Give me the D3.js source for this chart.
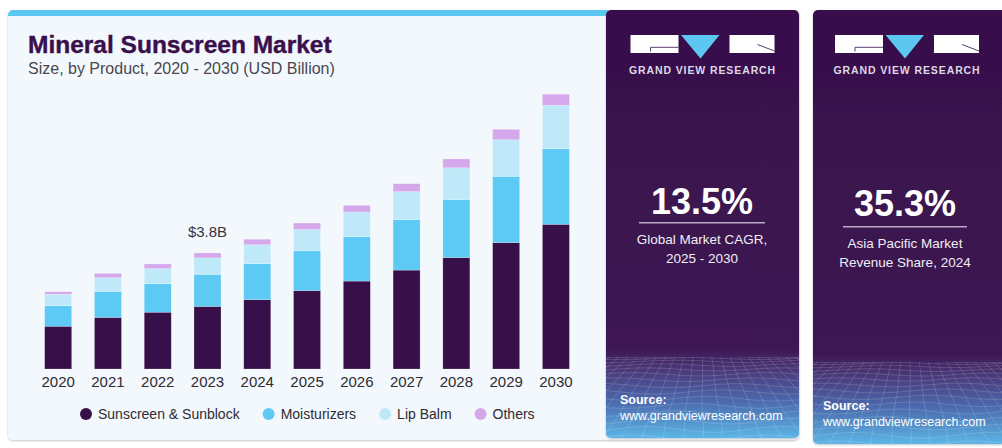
<!DOCTYPE html>
<html>
<head>
<meta charset="utf-8">
<script src="https://cdn.jsdelivr.net/npm/d3@7"></script>
<style>
  html, body { margin: 0; padding: 0; background: #ffffff; }
  svg { display: block; font-family: "Liberation Sans", Arial, sans-serif; }
</style>
</head>
<body>
<svg id="chart" width="1002" height="448"></svg>
<script>
// ---- data (USD billion) ----
const years = ["2020", "2021", "2022", "2023", "2024", "2025", "2026", "2027", "2028", "2029", "2030"];
const sunscreen    = [1.40, 1.69, 1.86, 2.05, 2.27, 2.57, 2.88, 3.24, 3.65, 4.14, 4.74];
const moisturizers = [0.67, 0.85, 0.93, 1.05, 1.18, 1.30, 1.45, 1.65, 1.90, 2.17, 2.48];
const lipBalm      = [0.38, 0.45, 0.50, 0.54, 0.62, 0.70, 0.81, 0.92, 1.04, 1.20, 1.42];
const others       = [0.08, 0.14, 0.15, 0.16, 0.18, 0.21, 0.22, 0.26, 0.29, 0.34, 0.36];
const seriesKeys   = ["Sunscreen & Sunblock", "Moisturizers", "Lip Balm", "Others"];
const seriesColors = ["#37104a", "#5ccaf5", "#bfe9f9", "#d4a8ea"];
const calloutYear  = "2023";
const calloutText  = "$3.8B";

const titleText    = "Mineral Sunscreen Market";
const subtitleText = "Size, by Product, 2020 - 2030 (USD Billion)";
const stat1Value   = "13.5%";
const stat1Lines   = ["Global Market CAGR,", "2025 - 2030"];
const stat2Value   = "35.3%";
const stat2Lines   = ["Asia Pacific Market", "Revenue Share, 2024"];
const brandName    = "GRAND VIEW RESEARCH";
const sourceLabel  = "Source:";
const sourceUrl    = "www.grandviewresearch.com";

// ---- build table for the stack ----
const table = years.map((y, i) => ({
  year: y,
  "Sunscreen & Sunblock": sunscreen[i],
  "Moisturizers": moisturizers[i],
  "Lip Balm": lipBalm[i],
  "Others": others[i]
}));

const svg = d3.select("#chart");
const defs = svg.append("defs");

// soft card shadow
const sh = defs.append("filter").attr("id", "cardShadow")
  .attr("x", "-5%").attr("y", "-5%").attr("width", "110%").attr("height", "110%");
sh.append("feDropShadow").attr("dx", 0).attr("dy", 1).attr("stdDeviation", 1.2)
  .attr("flood-color", "#7a7f88").attr("flood-opacity", 0.45);

// ---- main card ----
svg.append("rect")
  .attr("x", 8).attr("y", 10).attr("width", 791).attr("height", 430)
  .attr("rx", 5).attr("fill", "#f3f8fc").attr("filter", "url(#cardShadow)");

// blue top stripe
const stripeClip = defs.append("clipPath").attr("id", "stripeClip");
stripeClip.append("rect").attr("x", 8).attr("y", 10).attr("width", 791).attr("height", 430).attr("rx", 5);
svg.append("rect")
  .attr("x", 8).attr("y", 10).attr("width", 600).attr("height", 6)
  .attr("fill", "#5cc8f2").attr("clip-path", "url(#stripeClip)");

// title
svg.append("text")
  .attr("x", 28).attr("y", 53)
  .attr("font-size", 24.5).attr("font-weight", "bold").attr("fill", "#3a0f4c")
  .attr("stroke", "#3a0f4c").attr("stroke-width", 0.4)
  .text(titleText);
svg.append("text")
  .attr("x", 28).attr("y", 74)
  .attr("font-size", 16).attr("fill", "#4a4750")
  .text(subtitleText);

// ---- chart ----
const x = d3.scaleBand()
  .domain(years)
  .range([33.3, 580.8])
  .paddingInner(0.4575)
  .paddingOuter(0.2288);

const y = d3.scaleLinear()
  .domain([0, 10])
  .range([369, 63.7]);

const stack = d3.stack().keys(seriesKeys);
const stacked = stack(table);

const gBars = svg.append("g");
stacked.forEach((layer, li) => {
  gBars.selectAll(null)
    .data(layer)
    .join("rect")
    .attr("x", d => x(d.data.year))
    .attr("width", x.bandwidth())
    .attr("y", d => y(d[1]))
    .attr("height", d => y(d[0]) - y(d[1]))
    .attr("fill", seriesColors[li])
    .attr("stroke", "#ffffff")
    .attr("stroke-opacity", 0.35)
    .attr("stroke-width", 0.6);
});

// x axis labels
const xAxis = d3.axisBottom(x).tickSize(0).tickPadding(0);
const gx = svg.append("g")
  .attr("transform", "translate(0,369)")
  .call(xAxis);
gx.select(".domain").remove();
gx.selectAll("text")
  .attr("dy", null)
  .attr("y", 18)
  .attr("font-size", 15)
  .attr("font-family", "\"Liberation Sans\", Arial, sans-serif")
  .attr("fill", "#2e2b33");

// value callout
const calloutIndex = years.indexOf(calloutYear);
const calloutTotal = sunscreen[calloutIndex] + moisturizers[calloutIndex] + lipBalm[calloutIndex] + others[calloutIndex];
svg.append("text")
  .attr("x", x(calloutYear) + x.bandwidth() / 2)
  .attr("y", y(calloutTotal) - 16)
  .attr("text-anchor", "middle")
  .attr("font-size", 15)
  .attr("fill", "#38343d")
  .text(calloutText);

// legend
const gLeg = svg.append("g").attr("transform", "translate(0,414)");
let lx = 86;
seriesKeys.forEach((k, i) => {
  gLeg.append("circle").attr("cx", lx).attr("cy", 0).attr("r", 6).attr("fill", seriesColors[i]);
  const t = gLeg.append("text")
    .attr("x", lx + 12).attr("y", 5)
    .attr("font-size", 14).attr("fill", "#2e2b33")
    .text(k);
  lx += 12 + t.node().getComputedTextLength() + 29;
});

// ---- right side panels ----
function panel(id, px, py, pw, ph, meshTop) {
  const grad = defs.append("linearGradient").attr("id", "grad" + id)
    .attr("gradientUnits", "userSpaceOnUse")
    .attr("x1", 0).attr("y1", py).attr("x2", 0).attr("y2", py + ph);
  const mt = (meshTop - py) / ph;
  grad.append("stop").attr("offset", 0).attr("stop-color", "#38104a");
  grad.append("stop").attr("offset", mt - 0.02).attr("stop-color", "#3c1653");
  grad.append("stop").attr("offset", mt + 0.03).attr("stop-color", "#4a3878");
  grad.append("stop").attr("offset", mt + (1 - mt) * 0.55).attr("stop-color", "#4c6aae");
  grad.append("stop").attr("offset", 1).attr("stop-color", "#5bb6e6");

  const clip = defs.append("clipPath").attr("id", "clip" + id);
  clip.append("rect").attr("x", px).attr("y", py).attr("width", pw).attr("height", ph).attr("rx", 5);

  const g = svg.append("g");
  g.append("rect")
    .attr("x", px).attr("y", py).attr("width", pw).attr("height", ph).attr("rx", 5)
    .attr("fill", "url(#grad" + id + ")")
    .attr("filter", "url(#cardShadow)");

  // perspective wire mesh on the lower part
  const mesh = g.append("g").attr("clip-path", "url(#clip" + id + ")")
    .attr("stroke", "#ffffff").attr("stroke-opacity", 0.22).attr("stroke-width", 0.7).attr("fill", "none");
  const meshClip = defs.append("clipPath").attr("id", "meshClip" + id);
  meshClip.append("rect").attr("x", px).attr("y", meshTop).attr("width", pw).attr("height", py + ph - meshTop);
  const inner = mesh.append("g").attr("clip-path", "url(#meshClip" + id + ")");
  const bottom = py + ph;
  const H = bottom - meshTop;
  const line = d3.line().curve(d3.curveBasis);
  for (let i = 0; i <= 14; i++) {
    const t = i / 14;
    const yy = meshTop + H * Math.pow(t, 1.5);
    const pts = d3.range(0, 11).map(j => {
      const xx = px + (pw * j) / 10;
      return [xx, yy + Math.sin(j * 0.9 + i * 0.7) * (1 + t * 2.5)];
    });
    inner.append("path").attr("d", line(pts));
  }
  const vx = px + pw / 2, vy = meshTop - 70;
  for (let j = -22; j <= 22; j++) {
    const bx = vx + j * 20;
    const pts = d3.range(0, 9).map(k => {
      const s = k / 8;
      const yy = meshTop + H * s;
      const tt = (yy - vy) / (bottom - vy);
      return [vx + (bx - vx) * tt + Math.sin(k * 1.1 + j) * 1.5 * s, yy];
    });
    inner.append("path").attr("d", line(pts));
  }
  return g;
}

function logo(g, cx) {
  const top = 35;
  const lg = g.append("g").attr("transform", "translate(" + (cx - 72) + ",0)");
  // G block
  lg.append("rect").attr("x", 0).attr("y", top).attr("width", 48).attr("height", 18).attr("fill", "#ffffff");
  lg.append("path").attr("d", "M48,47.3 H20 V51.5").attr("fill", "none")
    .attr("stroke", "#5a3f70").attr("stroke-width", 1);
  // triangle
  lg.append("path").attr("d", "M50.5," + top + " L89," + top + " L70,58.5 Z").attr("fill", "#5cc8f2");
  // R block
  lg.append("rect").attr("x", 99).attr("y", top).attr("width", 45).attr("height", 18).attr("fill", "#ffffff");
  lg.append("path").attr("d", "M127,44.5 L144,51").attr("fill", "none")
    .attr("stroke", "#5a3f70").attr("stroke-width", 1);
  g.append("text")
    .attr("x", cx).attr("y", 74.3)
    .attr("text-anchor", "middle")
    .attr("font-size", 10.5).attr("font-weight", "bold")
    .attr("letter-spacing", 0.9)
    .attr("fill", "#dcd8e4")
    .text(brandName);
}

function stat(g, cx, valueY, lineY, lineHalf, lines, firstLineY, value) {
  g.append("text")
    .attr("x", cx).attr("y", valueY)
    .attr("text-anchor", "middle")
    .attr("font-size", 36).attr("font-weight", "bold").attr("fill", "#ffffff")
    .text(value);
  g.append("line")
    .attr("x1", cx - lineHalf).attr("x2", cx + lineHalf)
    .attr("y1", lineY).attr("y2", lineY)
    .attr("stroke", "#b7a8c6").attr("stroke-width", 1.5);
  lines.forEach((l, i) => {
    g.append("text")
      .attr("x", cx).attr("y", firstLineY + i * 19)
      .attr("text-anchor", "middle")
      .attr("font-size", 13.5).attr("fill", "#f1eef5")
      .text(l);
  });
}

function source(g, sx, sy) {
  g.append("text").attr("x", sx).attr("y", sy)
    .attr("font-size", 12.5).attr("font-weight", "bold").attr("fill", "#ffffff")
    .text(sourceLabel);
  g.append("text").attr("x", sx).attr("y", sy + 16)
    .attr("font-size", 12.5).attr("fill", "#ffffff")
    .text(sourceUrl);
}

const p1 = panel("A", 606, 10, 193, 428, 357);
logo(p1, 702.5);
stat(p1, 702, 213.5, 222.7, 63, stat1Lines, 243.5, stat1Value);
source(p1, 620, 403.5);

const p2 = panel("B", 813, 10, 194, 434, 362);
logo(p2, 907);
stat(p2, 905, 216, 226.7, 62, stat2Lines, 247.5, stat2Value);
source(p2, 823, 409.5);
</script>
</body>
</html>
